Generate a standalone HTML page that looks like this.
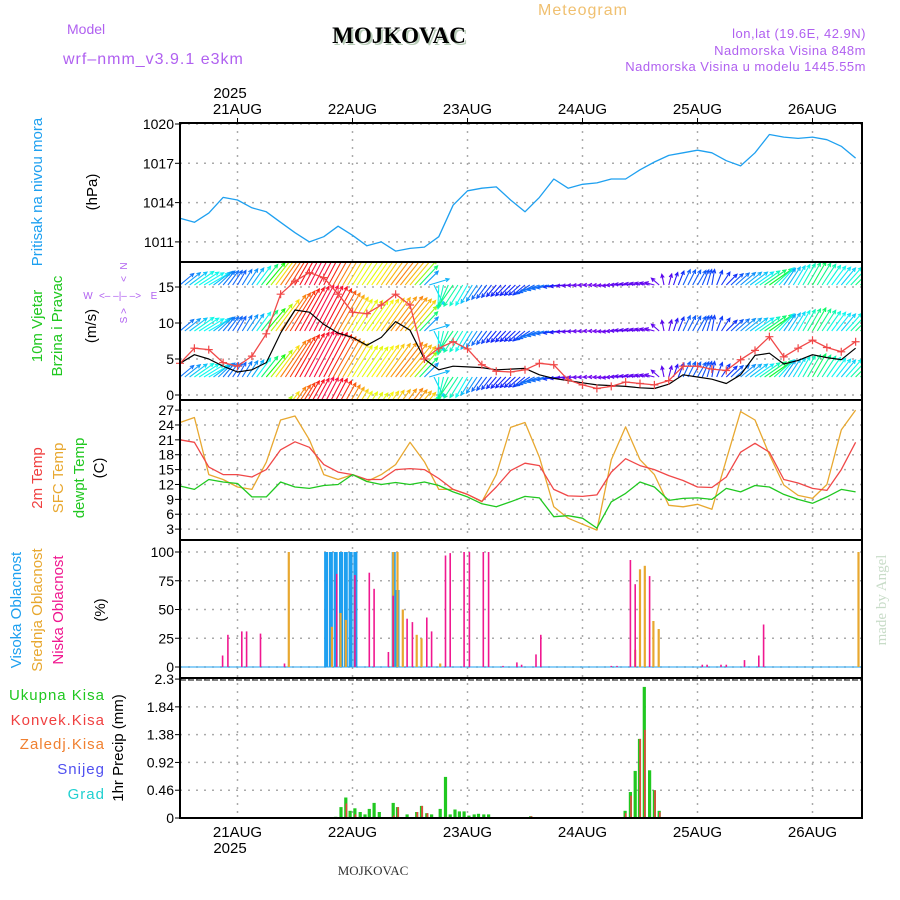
<!DOCTYPE html>
<html><head><meta charset="utf-8"><title>Meteogram MOJKOVAC</title>
<style>
html,body{margin:0;padding:0;background:#fff;}
#wrap{position:relative;width:900px;height:900px;overflow:hidden;font-family:"Liberation Sans",sans-serif;}
svg{position:absolute;left:0;top:0;}
</style></head>
<body>
<div id="wrap">
<svg id="chart" width="900" height="900" viewBox="0 0 900 900" xmlns="http://www.w3.org/2000/svg">
<defs>
<clipPath id="clipWind"><rect x="180" y="263" width="682" height="136"/></clipPath>
</defs>
<g font-family="Liberation Sans, sans-serif">
<text x="583" y="15" font-size="16" fill="#f0c070" text-anchor="middle" letter-spacing="1">Meteogram</text>
<text x="67" y="34" font-size="14" fill="#b060f0">Model</text>
<text x="63" y="64" font-size="16" fill="#b060f0" letter-spacing="1">wrf–nmm_v3.9.1 e3km</text>
<text x="401" y="45" font-size="23" font-weight="bold" font-family="Liberation Serif, serif" fill="#b8ccb8" text-anchor="middle">MOJKOVAC</text>
<text x="399" y="43" font-size="23" font-weight="bold" font-family="Liberation Serif, serif" fill="#000" text-anchor="middle">MOJKOVAC</text>
<text x="866" y="38" font-size="13" fill="#b060f0" text-anchor="end" letter-spacing="0.5">lon,lat (19.6E, 42.9N)</text>
<text x="866" y="55" font-size="13" fill="#b060f0" text-anchor="end" letter-spacing="0.5">Nadmorska Visina 848m</text>
<text x="866" y="71" font-size="13" fill="#b060f0" text-anchor="end" letter-spacing="0.5">Nadmorska Visina u modelu 1445.55m</text>
<text x="230" y="98" font-size="15" fill="#000" text-anchor="middle">2025</text>
<text x="230" y="853" font-size="15" fill="#000" text-anchor="middle">2025</text>
<text x="373" y="875" font-size="13" font-family="Liberation Serif, serif" fill="#333" text-anchor="middle">MOJKOVAC</text>
<text transform="translate(886,600) rotate(-90)" font-size="15" font-family="Liberation Serif, serif" fill="#c8dcc8" text-anchor="middle">made by Angel</text>

<text transform="translate(42,192) rotate(-90)" font-size="15" fill="#1ea0f0" text-anchor="middle">Pritisak na nivou mora</text>
<text transform="translate(97,192) rotate(-90)" font-size="15" fill="#000" text-anchor="middle">(hPa)</text>

<text transform="translate(42,326) rotate(-90)" font-size="15" fill="#20c820" text-anchor="middle">10m Vjetar</text>
<text transform="translate(62,326) rotate(-90)" font-size="15" fill="#20c820" text-anchor="middle">Brzina i Pravac</text>
<text transform="translate(96,326) rotate(-90)" font-size="15" fill="#000" text-anchor="middle">(m/s)</text>
<g fill="#b060f0" font-size="10" text-anchor="middle">
<text transform="translate(127,266) rotate(-90)">N</text>
<text transform="translate(127,279) rotate(-90)">&lt;</text>
<text transform="translate(127,320) rotate(-90)">S</text>
<text transform="translate(127,311) rotate(-90)">&gt;</text>
<text x="88" y="299">W</text>
<text x="154" y="299">E</text>
<text x="120" y="299">&lt;– –|– –&gt;</text>
</g>

<text transform="translate(42,478) rotate(-90)" font-size="15" fill="#f04040" text-anchor="middle">2m Temp</text>
<text transform="translate(63,478) rotate(-90)" font-size="15" fill="#e8a830" text-anchor="middle">SFC Temp</text>
<text transform="translate(84,478) rotate(-90)" font-size="15" fill="#20c820" text-anchor="middle">dewpt Temp</text>
<text transform="translate(104,468) rotate(-90)" font-size="15" fill="#000" text-anchor="middle">(C)</text>

<text transform="translate(21,610) rotate(-90)" font-size="15" fill="#1ea0f0" text-anchor="middle">Visoka Oblacnost</text>
<text transform="translate(42,610) rotate(-90)" font-size="15" fill="#e8a830" text-anchor="middle">Srednja Oblacnost</text>
<text transform="translate(63,610) rotate(-90)" font-size="15" fill="#f01890" text-anchor="middle">Niska Oblacnost</text>
<text transform="translate(105,610) rotate(-90)" font-size="15" fill="#000" text-anchor="middle">(%)</text>

<text x="105" y="700" font-size="15" fill="#20c820" text-anchor="end" letter-spacing="1">Ukupna  Kisa</text>
<text x="105" y="725" font-size="15" fill="#f04040" text-anchor="end" letter-spacing="1">Konvek.Kisa</text>
<text x="105" y="749" font-size="15" fill="#f08030" text-anchor="end" letter-spacing="1">Zaledj.Kisa</text>
<text x="105" y="774" font-size="15" fill="#5050f0" text-anchor="end" letter-spacing="1">Snijeg</text>
<text x="105" y="799" font-size="15" fill="#20d0d0" text-anchor="end" letter-spacing="1">Grad</text>
<text transform="translate(123,748) rotate(-90)" font-size="15" fill="#000" text-anchor="middle">1hr Precip (mm)</text>
</g>
<g id="plot"></g>
</svg>
</div>
<script>
// ---- time axis (hours from 20 AUG 12z) ----
const hours = [0,3,6,9,12,15,18,21,24,27,30,33,36,39,42,45,48,51,54,57,60,63,66,69,72,75,78,81,84,87,90,93,96,99,102,105,108,111,114,117,120,123,126,129,132,135,138,141];
const dayLabels = ["21AUG","22AUG","23AUG","24AUG","25AUG","26AUG"];
const dayHours = [12,36,60,84,108,132];
// pressure (hPa)
const pressure = [1012.8,1012.5,1013.2,1014.4,1014.2,1013.6,1013.3,1012.5,1011.7,1011.0,1011.4,1012.2,1011.5,1010.7,1011.0,1010.3,1010.5,1010.6,1011.4,1013.8,1014.9,1015.1,1015.2,1014.2,1013.3,1014.4,1015.8,1015.1,1015.4,1015.5,1015.8,1015.8,1016.5,1017.1,1017.6,1017.8,1018.0,1017.8,1017.2,1016.8,1017.8,1019.2,1019.0,1018.9,1019.0,1018.8,1018.3,1017.4];
const pressureTicks = [1011,1014,1017,1020];
// wind
const windSpeed = [4.4,6.5,6.3,4.5,4.0,5.4,8.5,14,15.8,17,16.3,14,11.5,11.3,12.5,14,12.5,5,6.5,7.4,6.4,4.2,3.3,3.2,3.5,4.4,4.2,2.1,1.4,0.9,1.2,1.8,1.6,1.4,2,4,4,3.6,3.4,4.9,6.2,8.1,5.3,6.5,7.6,6.6,6,7.4];
const windMean = [4.4,5.6,5,4,3.2,3.5,4.5,8.6,11.8,11.5,9.8,8.6,8,6.9,8,10.2,9,5,3.5,4,3.9,3.8,3.5,3.6,3.7,2.8,2.3,2,1.7,1.4,1.3,1.2,1,0.9,1.5,2.8,2.5,2.2,1.6,2.8,5.5,5.8,4.3,4.8,5.6,5.2,4.9,6.5];
const windDir = [40,35,30,50,60,55,50,55,60,62,62,60,58,55,55,52,50,45,268,235,240,235,230,225,220,200,190,185,182,180,185,175,170,165,75,65,60,80,45,40,35,35,55,60,60,55,50,45];
const windTicks = [0,5,10,15];
// temperatures
const temp2m = [21,20.5,15.5,14,14,13.5,15,19,20.6,19.5,16,14.5,14,13,13,15,15.2,15,13.2,11,10,8.6,11.5,14.8,16.3,15.8,11,9.7,9.6,9.9,14.5,17.2,15.8,15,13.8,12.8,11.5,11.4,13.5,18.5,20.3,18.5,13,12.3,11.2,10.8,15,20.5];
const tempSfc = [24.5,25.5,14,13,11.5,11,16.5,25,25.8,21,14,13,14,12.6,14,16,20.5,16.6,11,11,10,8.5,14,23.5,24.5,17.5,7.5,5.2,4,2.8,17,23.6,17,14,7.8,7.5,8,7,17,26.7,25,18,11.9,9.8,9.2,12,23,27];
const dewpt = [11.7,11,13,12.5,12.2,9.5,9.5,12.5,11.5,11.2,11.8,12,14,12.6,12,12.4,12,12.5,11.8,10.5,9.5,8.1,7.5,8.5,9.6,9.3,5.5,5.7,5.2,3.2,8.5,10.2,12.5,11.5,8.8,9.2,9.3,9,11.2,10.5,11.8,11.5,10,9,8.2,9.5,11,10.5];
const tempTicks = [3,6,9,12,15,18,21,24,27];
// clouds (%) at hour positions
const highHours = [30.5,31.5,32.5,33.6,34.6,35.6,36.6,44.6,45.4];
const highVals  = [100,100,100,100,100,100,100,100,67];
const midHours = [22.7,31.7,33.5,34.6,44.5,45.4,46.5,49.4,50.4,54.3,95,96,97,98.8,99.9,141.6];
const midVals  = [100,35,47,41,100,100,50,28,25,3,15,85,88,40,33,100];
const lowHours = [8.9,10,12.9,13.9,16.8,21.8,32.7,36.5,39.5,40.5,43.5,44.5,47.4,48.5,51.5,52.5,55.4,56.4,59.3,60.4,63.3,64.4,67.4,70.3,71.3,74.3,75.3,90,91.2,94,95,98,109,110,112.9,114,117.8,120.8,121.8];
const lowVals  = [10,28,31,31,29,3,81,80,82,68,13,62,42,39,43,31,97,99,100,100,100,100,1,4,2,11,28,1,1,93,72,79,2,2,2,2,6,10,37];
const cloudTicks = [0,25,50,75,100];
// precipitation (mm/h)
const precipHours = [32.5,33.6,34.6,35.5,36.5,37.6,38.6,39.5,40.5,41.6,44.5,45.4,47.4,49.4,50.4,51.5,52.5,54.3,55.4,56.4,57.4,58.3,59.3,60.3,61.4,62.3,63.4,64.4,73.2,92.9,94,95,95.9,96.9,98,99,100];
const precipTotal = [0.02,0.18,0.34,0.12,0.16,0.10,0.06,0.15,0.25,0.10,0.25,0.18,0.06,0.10,0.20,0.08,0.06,0.15,0.68,0.06,0.14,0.11,0.11,0.04,0.06,0.07,0.06,0.06,0.03,0.12,0.43,0.78,1.31,2.17,0.79,0.46,0.12];
const precipConv  = [0,0,0.24,0,0.06,0,0,0,0,0,0.04,0.18,0,0.10,0.20,0.08,0,0,0.02,0,0,0,0,0,0,0,0,0,0.03,0.08,0.37,0,1.31,1.46,0,0.46,0.10];
const precipTicks = [0,0.46,0.92,1.38,1.84,2.3];

const NS='http://www.w3.org/2000/svg';
const plot=document.getElementById('plot');
const X0=180,X1=862;
function x(h){return X0+h*115/24;}
const yP=v=>124+(1020-v)*13.1;
const yW=v=>395-v*7.2;
const yT=v=>544-v*4.96;
const yC=v=>667-v*1.15;
const yR=v=>818-v*60.4;
const panels=[[123,262],[262,400],[400,540],[540,678],[678,818]];
function el(tag,attrs,parent){const e=document.createElementNS(NS,tag);for(const k in attrs)e.setAttribute(k,attrs[k]);(parent||plot).appendChild(e);return e;}

const grid=el('g',{stroke:'#aaa','stroke-width':1.5,'stroke-dasharray':'2,6'});


dayHours.forEach(h=>{el('line',{x1:x(h),x2:x(h),y1:123,y2:818},grid);});
function hgrid(ticks,f,name){
  const g=el('g',{});
  
  
  ticks.forEach(t=>{
    el('line',{x1:X0,x2:X1,y1:f(t),y2:f(t),stroke:'#aaa','stroke-width':1.5,'stroke-dasharray':'2,6'},g);
    el('line',{x1:X0-5,x2:X0,y1:f(t),y2:f(t),stroke:'#000','stroke-width':1},g);
    const tx=el('text',{x:X0-6,y:f(t)+5,'font-size':14,'text-anchor':'end',fill:'#000','font-family':'Liberation Sans, sans-serif'},g);
    tx.textContent=String(t);
  });
}
hgrid(pressureTicks,yP,'pressure-axis');
hgrid(windTicks,yW,'wind-axis');
hgrid(tempTicks,yT,'temp-axis');
hgrid(cloudTicks,yC,'cloud-axis');
hgrid(precipTicks,yR,'precip-axis');

dayHours.forEach((h,i)=>{
  const t1=el('text',{x:x(h),y:114,'font-size':15,'text-anchor':'middle',fill:'#000','font-family':'Liberation Sans, sans-serif'});
  
  
  t1.textContent=dayLabels[i];
  const t2=el('text',{x:x(h),y:837,'font-size':15,'text-anchor':'middle',fill:'#000','font-family':'Liberation Sans, sans-serif'});
  
  
  t2.textContent=dayLabels[i];
  el('line',{x1:x(h),x2:x(h),y1:118,y2:123,stroke:'#000'});
});

function line(vals,f,color,name,w){
  const d=vals.map((v,i)=>(i?'L':'M')+x(hours[i]).toFixed(1)+','+f(v).toFixed(1)).join('');
  const p=el('path',{d:d,fill:'none',stroke:color,'stroke-width':w||1.3,'stroke-linejoin':'round'});
  
  
  return p;
}
line(pressure,yP,'#1ea0f0','pressure-line');

function speedColor(v){
  const stops=[[0,275],[2,260],[4,220],[6,190],[8,130],[10,85],[12,55],[14,30],[16,0],[18,-30]];
  let hue=stops[stops.length-1][1];
  for(let i=0;i<stops.length-1;i++){if(v>=stops[i][0]&&v<=stops[i+1][0]){const t=(v-stops[i][0])/(stops[i+1][0]-stops[i][0]);hue=stops[i][1]+t*(stops[i+1][1]-stops[i][1]);break;}}
  hue=(hue+360)%360;
  return 'hsl('+hue.toFixed(0)+',95%,'+(hue>250&&hue<300?'48%':'52%')+')';
}
const wg=el('g',{'clip-path':'url(#clipWind)','stroke-width':1.1,fill:'none'});


const rows=[285,331,377,423];
for(let h=0;h<=142;h++){
  let i=0;while(i<hours.length-2&&hours[i+1]<h)i++;
  const t=Math.min(1,Math.max(0,(h-hours[i])/(hours[i+1]-hours[i])));
  const s=windSpeed[i]*(1-t)+windSpeed[i+1]*t;
  const a1=windDir[i]*Math.PI/180,a2=windDir[i+1]*Math.PI/180;
  const ux=Math.cos(a1)*(1-t)+Math.cos(a2)*t, uy=Math.sin(a1)*(1-t)+Math.sin(a2)*t;
  const a=Math.atan2(uy,ux);
  const L=6+2.7*s, col=speedColor(s);
  rows.forEach(b=>{
    const x0=x(h),x2=x0+L*Math.cos(a),y2=b-L*Math.sin(a);
    const hb1=a+Math.PI-0.45,hb2=a+Math.PI+0.45,hl=4;
    el('path',{d:'M'+x0.toFixed(1)+','+b+'L'+x2.toFixed(1)+','+y2.toFixed(1)+'M'+(x2+hl*Math.cos(hb1)).toFixed(1)+','+(y2-hl*Math.sin(hb1)).toFixed(1)+'L'+x2.toFixed(1)+','+y2.toFixed(1)+'L'+(x2+hl*Math.cos(hb2)).toFixed(1)+','+(y2-hl*Math.sin(hb2)).toFixed(1),stroke:col},wg);
  });
}
line(windMean,yW,'#000','wind-mean-line',1.2);
line(windSpeed,yW,'#f04848','wind-speed-line',1.3);
const mk=el('g',{stroke:'#f04848','stroke-width':1.2});


windSpeed.forEach((v,i)=>{const cx=x(hours[i]),cy=yW(v);el('path',{d:'M'+(cx-4)+','+cy+'h8M'+cx+','+(cy-4)+'v8'},mk);});

line(tempSfc,yT,'#e8a830','sfc-temp-line');
line(temp2m,yT,'#f04848','temp-2m-line');
line(dewpt,yT,'#20c820','dewpt-line');

function bars(hs,vals,f,color,w,name,dx){
  const g=el('g',{fill:color});
  
  
  hs.forEach((h,i)=>{if(vals[i]<=0)return;const y=f(vals[i]);el('rect',{x:(x(h)-w/2+(dx||0)).toFixed(1),y:y.toFixed(1),width:w,height:(f(0)-y).toFixed(1)},g);});
}
el('line',{x1:X0,x2:X1,y1:yC(0),y2:yC(0),stroke:'#1ea0f0','stroke-width':1});
bars(highHours,highVals,yC,'#1ea0f0',4,'high-cloud-bars');
bars(midHours,midVals,yC,'#e8a830',2.2,'mid-cloud-bars');
bars(lowHours,lowVals,yC,'#f01890',1.6,'low-cloud-bars');

bars(precipHours,precipTotal,yR,'#20c820',3.2,'precip-total-bars');
bars(precipHours,precipConv,yR,'#f04040',1.6,'precip-conv-bars',0.6);
el('line',{x1:X0,x2:X1,y1:818,y2:818,stroke:'#000','stroke-width':2,'stroke-dasharray':'6,2'});
el('line',{x1:X0,x2:X1,y1:680,y2:680,stroke:'#000','stroke-width':1,'stroke-dasharray':'6,2'});

panels.forEach((p,i)=>{
  const r=el('rect',{x:X0,y:p[0],width:X1-X0,height:p[1]-p[0],fill:'none',stroke:'#000','stroke-width':2});
  
  
});
</script>
</body></html>
